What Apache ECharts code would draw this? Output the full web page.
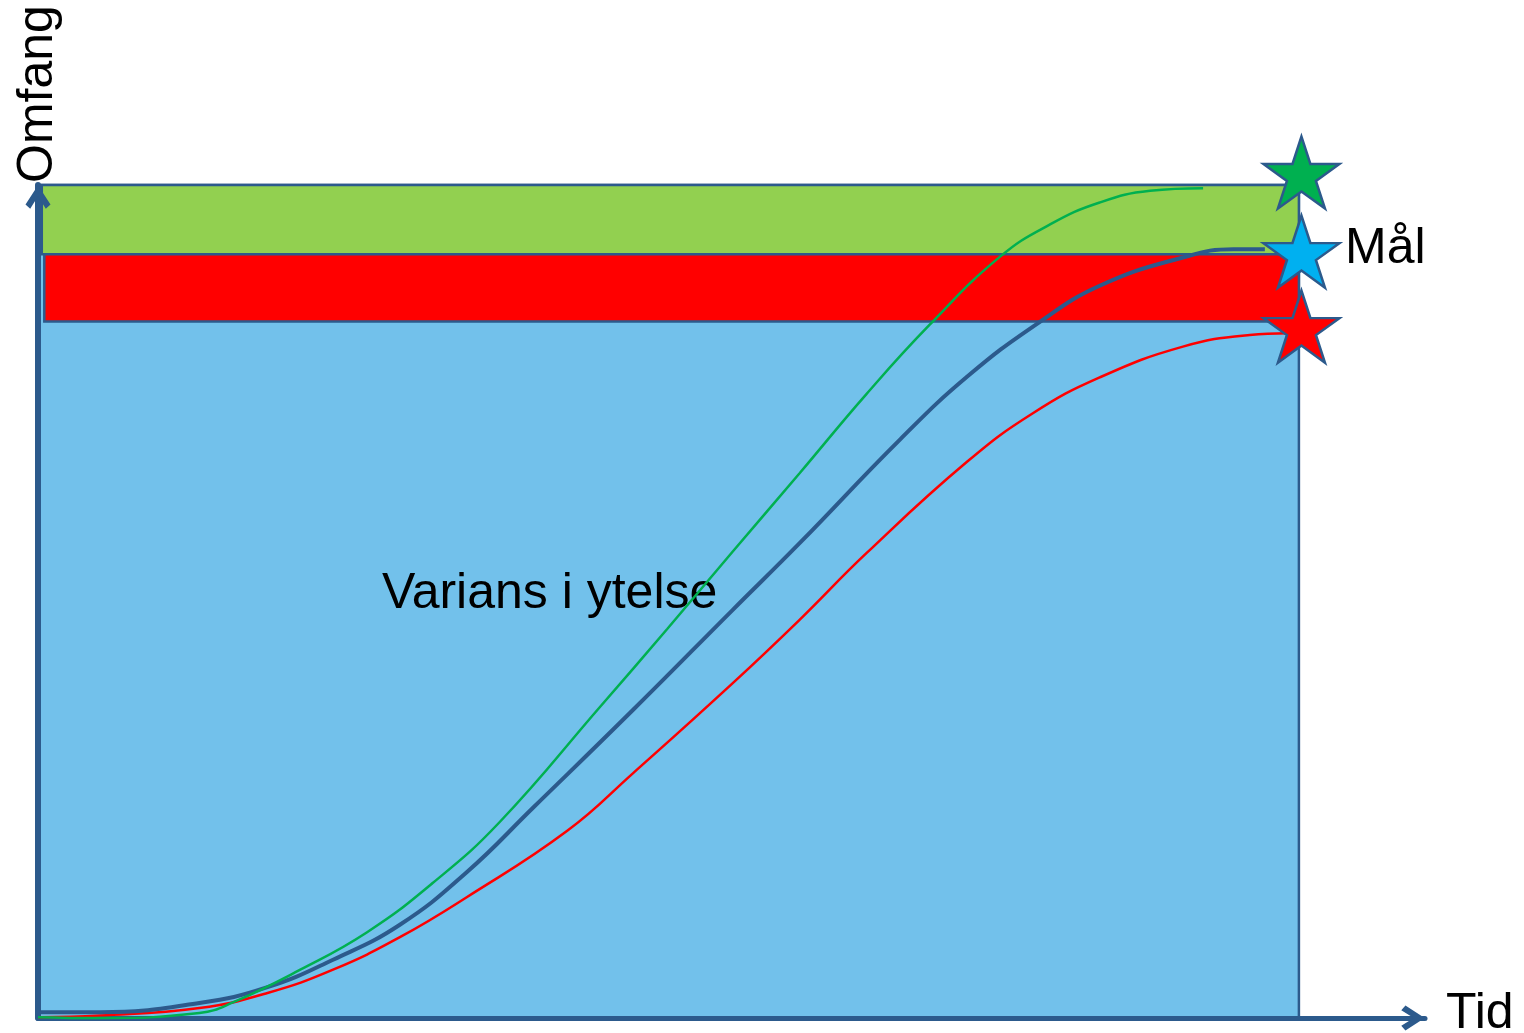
<!DOCTYPE html>
<html>
<head>
<meta charset="utf-8">
<script src="https://cdn.jsdelivr.net/npm/echarts@6/dist/echarts.min.js"></script>
<style>
html,body{margin:0;padding:0;background:#fff;}
#chart{width:1524px;height:1033px;}
</style>
</head>
<body>
<div id="chart"></div>
<script>
// ---- data ----
const axisTitles = { y: 'Omfang', x: 'Tid' };
const areaLabel = 'Varians i ytelse';
const goalLabel = 'Mål';

// rectangles: [x0, y0, x1, y1] in (time, scope) units
const zoneNames = ['Varians', 'Over', 'Under'];
const zoneRects = [
  [0, 0, 100, 100],
  [0.3, 91.7, 100, 100],
  [0.5, 83.6, 100, 91.7]
];
const zoneColors = ['#72C1EB', '#92D050', '#FF0000'];

// curves
const greenX = [0, 4.9, 12.8, 15.5, 20.8, 26.1, 31.3, 36.6, 44.6, 49.9, 55.1, 60.4, 65.7, 70.7, 76.3, 80.3, 84.2, 88.2, 92.4];
const greenY = [0.1, 0, 0.6, 1.9, 5.8, 10.3, 16.2, 23.5, 37.4, 46.7, 56.0, 65.4, 74.9, 83.2, 91.4, 95.3, 97.9, 99.3, 99.6];

const blueX = [0, 4.9, 12.8, 18.2, 23.4, 28.7, 34.0, 39.3, 47.2, 55.1, 60.4, 68.4, 73.7, 79.2, 84.2, 90.8, 94.8, 97.3];
const blueY = [0.7, 0.7, 1.8, 3.7, 7.0, 11.2, 17.5, 25.3, 37.0, 49.0, 57.0, 69.5, 77.0, 83.3, 87.9, 91.3, 92.3, 92.3];

const redX = [0, 4.9, 12.8, 18.2, 23.4, 28.7, 34.0, 42.0, 47.2, 55.1, 60.4, 65.7, 73.7, 78.9, 84.2, 90.8, 96.1, 99.1];
const redY = [0.1, 0.3, 1.2, 3.0, 5.8, 9.7, 14.5, 22.5, 29.4, 40.2, 47.8, 55.8, 66.8, 72.6, 76.9, 80.6, 82.0, 82.2];

// goal stars
const starX = [100.2, 100.2, 100.2];
const starY = [101.5, 92.0, 83.0];
const starColors = ['#00B050', '#00B0F0', '#FF0000'];

// ---- styles ----
const dark = '#2C5A8C';
const STAR = 'path://M50,0 L61.23,34.55 L97.55,34.55 L68.17,55.9 L79.39,90.45 L50,69.1 L20.61,90.45 L31.83,55.9 L2.45,34.55 L38.77,34.55 Z';
const CHEVRON = 'path://M12,0 L24,18.5 L19.5,22.5 L12,10.5 L4.5,22.5 L0,18.5 Z';
const FONT = '"Liberation Sans", Arial, sans-serif';

const zip = (xs, ys) => xs.map((x, i) => [x, ys[i]]);

const chart = echarts.init(document.getElementById('chart'));
const axisCommon = {
  type: 'value',
  z: 3,
  axisLabel: { show: false },
  axisTick: { show: false },
  splitLine: { show: false },
  axisLine: {
    show: true,
    symbol: ['none', CHEVRON],
    symbolSize: [25, 25],
    symbolOffset: [0, -12],
    lineStyle: { color: dark, width: 5 }
  }
};

const lineCommon = { type: 'line', z: 4, smooth: 0.45, showSymbol: false, clip: false };

chart.setOption({
  animation: false,
  backgroundColor: '#ffffff',
  grid: { left: 38, right: 99, top: 185, bottom: 15 },
  xAxis: Object.assign({}, axisCommon, { min: 0, max: 110 }),
  yAxis: Object.assign({}, axisCommon, { min: 0, max: 100, axisLine: Object.assign({}, axisCommon.axisLine, { lineStyle: { color: dark, width: 6 } }) }),
  graphic: [
    { type: 'text', x: 38, y: 94, rotation: Math.PI / 2, z: 10,
      style: { text: axisTitles.y, font: '50px ' + FONT, fill: '#000', textAlign: 'center', textVerticalAlign: 'middle' } },
    { type: 'text', x: 1446, y: 1014, z: 10,
      style: { text: axisTitles.x, font: '50px ' + FONT, fill: '#000', textAlign: 'left', textVerticalAlign: 'middle' } },
    { type: 'text', x: 1345, y: 249, z: 10,
      style: { text: goalLabel, font: '50px ' + FONT, fill: '#000', textAlign: 'left', textVerticalAlign: 'middle' } },
    { type: 'text', x: 382, y: 594, z: 2,
      style: { text: areaLabel, font: '50px ' + FONT, fill: '#000', textAlign: 'left', textVerticalAlign: 'middle' } }
  ],
  series: [
    {
      type: 'custom',
      z: 1,
      clip: false,
      data: zoneRects.map((r, i) => ({ name: zoneNames[i], value: r })),
      encode: { x: [0, 2], y: [1, 3] },
      renderItem: function (params, api) {
        const p0 = api.coord([api.value(0), api.value(3)]);
        const p1 = api.coord([api.value(2), api.value(1)]);
        return {
          type: 'rect',
          shape: { x: p0[0], y: p0[1], width: p1[0] - p0[0], height: p1[1] - p0[1] },
          style: { fill: zoneColors[params.dataIndex], stroke: dark, lineWidth: 2.5 }
        };
      }
    },
    Object.assign({}, lineCommon, { data: zip(redX, redY), lineStyle: { color: '#FF0000', width: 2.5 } }),
    Object.assign({}, lineCommon, { data: zip(blueX, blueY), lineStyle: { color: dark, width: 4 } }),
    Object.assign({}, lineCommon, { data: zip(greenX, greenY), lineStyle: { color: '#00B050', width: 2.5 } }),
    {
      type: 'scatter', z: 6, clip: false,
      symbol: STAR, symbolSize: [76, 72],
      data: zip(starX, starY).map((v, i) => ({ value: v, itemStyle: { color: starColors[i] } })),
      itemStyle: { borderColor: dark, borderWidth: 2.5, opacity: 1 }
    }
  ]
});
</script>
</body>
</html>
